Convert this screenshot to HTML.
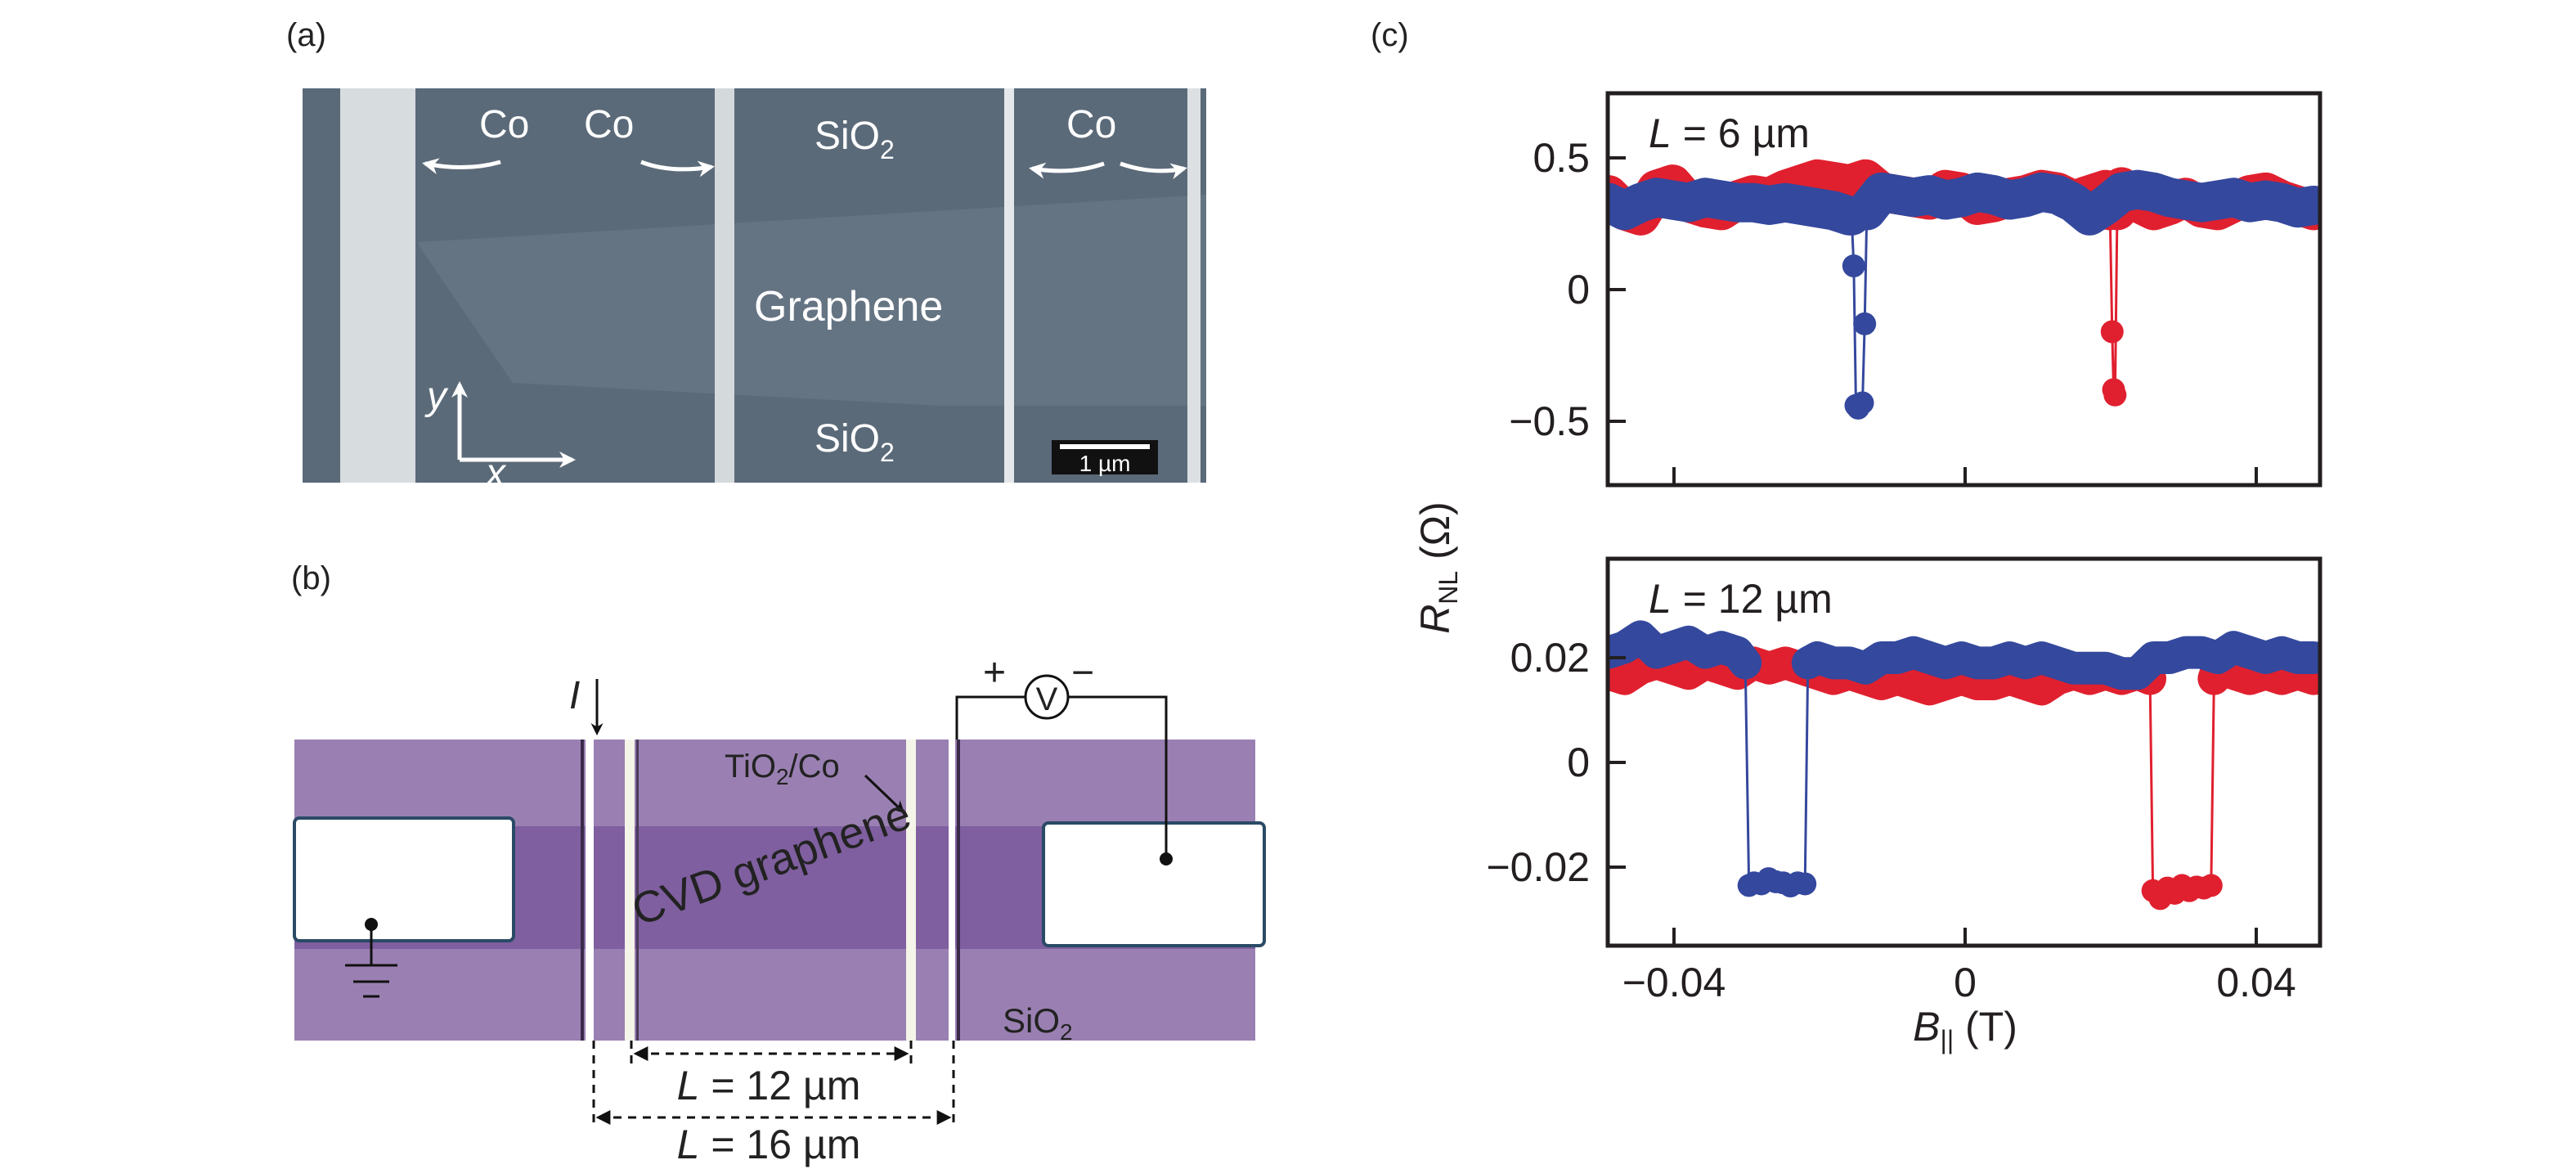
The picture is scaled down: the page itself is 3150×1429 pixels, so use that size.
<!DOCTYPE html>
<html><head><meta charset="utf-8"><style>
html,body{margin:0;padding:0;background:#fff;}
svg{display:block;font-family:"Liberation Sans",sans-serif;}
</style></head><body>
<svg id="fig" width="3150" height="1429" viewBox="0 0 3150 1429" xmlns="http://www.w3.org/2000/svg">
<defs>
<marker id="wa" viewBox="0 0 10 10" refX="8" refY="5" markerWidth="4" markerHeight="4" orient="auto"><path d="M0,0 L10,5 L0,10 L3,5 z" fill="#fff"/></marker>
<marker id="ka" viewBox="0 0 10 10" refX="8" refY="5" markerWidth="5" markerHeight="5" orient="auto"><path d="M0,0 L10,5 L0,10 L3,5 z" fill="#111"/></marker>
<marker id="kb" viewBox="0 0 10 10" refX="8" refY="5" markerWidth="6" markerHeight="6" orient="auto-start-reverse"><path d="M0,0 L10,5 L0,10 z" fill="#111"/></marker>
</defs>

<!-- Panel (a) -->
<text x="350" y="56" font-size="40" fill="#222">(a)</text>
<g>
<rect x="370" y="108" width="1105" height="482" fill="#5b6a79"/>
<polygon points="512,296 1475,238 1475,496 1150,496 627,468 512,300" fill="#657483"/>
<rect x="416" y="108" width="92" height="482" fill="#d7dcdf"/>
<rect x="874" y="108" width="24" height="482" fill="#d4d9dc"/>
<rect x="1228" y="108" width="12" height="482" fill="#e4e8ea"/>
<rect x="1452" y="108" width="16" height="482" fill="#dce0e3"/>
<g fill="#fff" font-size="48">
<text x="586" y="168">Co</text>
<text x="714" y="168">Co</text>
<text x="996" y="182">SiO<tspan font-size="32" dy="12">2</tspan></text>
<text x="1304" y="168">Co</text>
<text x="922" y="392" font-size="52">Graphene</text>
<text x="996" y="552">SiO<tspan font-size="32" dy="12">2</tspan></text>
<text x="522" y="500" font-style="italic">y</text>
<text x="594" y="594" font-style="italic">x</text>
</g>
<g stroke="#fff" stroke-width="5" fill="none">
<path d="M612,198 Q570,210 520,200" marker-end="url(#wa)"/>
<path d="M784,198 Q820,212 870,204" marker-end="url(#wa)"/>
<path d="M1350,200 Q1310,214 1262,206" marker-end="url(#wa)"/>
<path d="M1370,200 Q1410,214 1448,206" marker-end="url(#wa)"/>
<line x1="562" y1="562" x2="562" y2="470" marker-end="url(#wa)"/>
<line x1="562" y1="562" x2="700" y2="562" marker-end="url(#wa)"/>
</g>
<rect x="1286" y="538" width="130" height="42" fill="#111"/>
<rect x="1296" y="543" width="110" height="6" fill="#fff"/>
<text x="1351" y="576" fill="#fff" font-size="28" text-anchor="middle">1 µm</text>
</g>

<!-- Panel (b) -->
<text x="356" y="720" font-size="40" fill="#222">(b)</text>
<g>
<rect x="360" y="904" width="1175" height="368" fill="#9a80b2"/>
<rect x="360" y="1010" width="1175" height="150" fill="#7f5f9f"/>
<rect x="360" y="1000" width="268" height="150" rx="6" fill="#fff" stroke="#2a4a66" stroke-width="4"/>
<rect x="1276" y="1006" width="270" height="150" rx="6" fill="#fff" stroke="#2a4a66" stroke-width="4"/>
<rect x="716" y="904" width="10" height="368" fill="#fff"/>
<rect x="710" y="904" width="4" height="368" fill="#3a2a4a"/>
<rect x="764" y="904" width="12" height="368" fill="#f4f4e8"/>
<rect x="778" y="904" width="3" height="368" fill="#4a3a5a"/>
<rect x="1108" y="904" width="12" height="368" fill="#f4f4e8"/>
<rect x="1160" y="904" width="8" height="368" fill="#fff"/>
<rect x="1170" y="904" width="4" height="368" fill="#3a2a4a"/>
</g>
<g stroke="#111" stroke-width="3" fill="none">
<line x1="730" y1="830" x2="730" y2="896" marker-end="url(#ka)"/>
<polyline points="1170,904 1170,852 1254,852"/>
<polyline points="1304,852 1426,852 1426,1050"/>
<circle cx="1280" cy="852" r="26" fill="#fff"/>
<line x1="454" y1="1130" x2="454" y2="1180"/>
<line x1="422" y1="1180" x2="486" y2="1180"/>
<line x1="432" y1="1200" x2="476" y2="1200"/>
<line x1="444" y1="1218" x2="464" y2="1218"/>
<line x1="1058" y1="948" x2="1104" y2="992" marker-end="url(#ka)"/>
</g>
<circle cx="1426" cy="1050" r="8" fill="#111"/>
<circle cx="454" cy="1130" r="8" fill="#111"/>
<g font-size="48" fill="#222">
<text x="696" y="866" font-style="italic">I</text>
<text x="1280" y="868" text-anchor="middle" font-size="40">V</text>
<text x="1202" y="838">+</text>
<text x="1310" y="838">−</text>
<text x="886" y="950" font-size="40">TiO<tspan font-size="28" dy="9">2</tspan><tspan dy="-9">/Co</tspan></text>
<text x="944" y="1072" font-size="54" text-anchor="middle" transform="rotate(-20 944 1056)">CVD graphene</text>
<text x="1226" y="1262" font-size="42">SiO<tspan font-size="28" dy="9">2</tspan></text>
<text x="940" y="1344" font-size="50" text-anchor="middle"><tspan font-style="italic">L</tspan> = 12 µm</text>
<text x="940" y="1416" font-size="50" text-anchor="middle"><tspan font-style="italic">L</tspan> = 16 µm</text>
</g>
<g stroke="#111" stroke-width="3" fill="none" stroke-dasharray="10,8">
<line x1="726" y1="1272" x2="726" y2="1380"/>
<line x1="772" y1="1272" x2="772" y2="1300"/>
<line x1="1114" y1="1272" x2="1114" y2="1300"/>
<line x1="1166" y1="1272" x2="1166" y2="1380"/>
<line x1="778" y1="1288" x2="1108" y2="1288" marker-start="url(#kb)" marker-end="url(#kb)"/>
<line x1="732" y1="1366" x2="1160" y2="1366" marker-start="url(#kb)" marker-end="url(#kb)"/>
</g>

<!-- Panel (c) -->
<text x="1676" y="56" font-size="40" fill="#222">(c)</text>
<g id="chart"></g>
</svg>
<script>
// x axis (shared)
const xTicks = [-0.04, 0, 0.04];
const xTickLabels = ["−0.04", "0", "0.04"];
// top panel (L = 6 µm)
const topYTicks = [0.5, 0, -0.5];
const topYTickLabels = ["0.5", "0", "−0.5"];
const baseB = [-0.0490,-0.0468,-0.0446,-0.0424,-0.0402,-0.0380,-0.0357,-0.0335,-0.0313,-0.0291,-0.0269,-0.0247,-0.0225,-0.0203,-0.0181,-0.0159,-0.0137,-0.0115,-0.0093,-0.0071,-0.0049,-0.0027,-0.0005,0.0017,0.0039,0.0061,0.0083,0.0105,0.0127,0.0149,0.0171,0.0193,0.0215,0.0237,0.0259,0.0281,0.0303,0.0325,0.0347,0.0369,0.0391,0.0413,0.0435,0.0457,0.0479];
const redTop = [0.36,0.30,0.28,0.38,0.40,0.33,0.31,0.30,0.34,0.36,0.35,0.38,0.40,0.42,0.41,0.40,0.42,0.37,0.36,0.35,0.34,0.38,0.37,0.32,0.33,0.35,0.36,0.38,0.37,0.34,0.36,0.38,0.39,0.33,0.30,0.32,0.35,0.31,0.30,0.33,0.36,0.37,0.34,0.32,0.30];
const blueTop = [0.33,0.30,0.33,0.35,0.34,0.33,0.35,0.34,0.33,0.33,0.32,0.33,0.32,0.31,0.30,0.28,0.35,0.37,0.36,0.35,0.36,0.34,0.35,0.37,0.36,0.34,0.35,0.37,0.36,0.33,0.28,0.32,0.37,0.38,0.37,0.35,0.34,0.33,0.34,0.35,0.33,0.34,0.33,0.31,0.32];
const blueTopDipB = [-0.0156,-0.0153,-0.0150,-0.0147,-0.0141,-0.0138,-0.0135];
const blueTopDipV = [0.28,0.09,-0.44,-0.45,-0.43,-0.13,0.30];
const redTopDipB = [0.0199,0.0202,0.0204,0.0206,0.0209];
const redTopDipV = [0.30,-0.16,-0.38,-0.40,0.30];
// bottom panel (L = 12 µm)
const botYTicks = [0.02, 0, -0.02];
const botYTickLabels = ["0.02", "0", "−0.02"];
const redBot = [0.017,0.016,0.018,0.019,0.018,0.017,0.019,0.018,0.017,0.019,0.018,0.019,0.018,0.017,0.016,0.017,0.016,0.015,0.016,0.015,0.014,0.015,0.016,0.015,0.015,0.016,0.015,0.014,0.016,0.017,0.016,0.017,0.016,0.017,0.017,0.016,0.017,0.016,0.018,0.017,0.016,0.017,0.016,0.017,0.016];
const blueBot = [0.021,0.022,0.024,0.021,0.022,0.023,0.021,0.022,0.021,0.020,0.019,0.021,0.021,0.020,0.019,0.019,0.018,0.020,0.020,0.021,0.020,0.019,0.020,0.019,0.019,0.020,0.019,0.020,0.019,0.018,0.018,0.018,0.017,0.017,0.020,0.020,0.021,0.021,0.020,0.022,0.021,0.020,0.021,0.020,0.020];
const blueBotDipB = [-0.0302,-0.0297,-0.0290,-0.0280,-0.0270,-0.0260,-0.0250,-0.0240,-0.0230,-0.0220,-0.0216];
const blueBotDipV = [0.019,-0.0235,-0.0230,-0.0232,-0.0222,-0.0228,-0.0230,-0.0236,-0.0230,-0.0232,0.019];
const redBotDipB = [0.0254,0.0258,0.0268,0.0278,0.0288,0.0298,0.0308,0.0318,0.0328,0.0338,0.0342];
const redBotDipV = [0.016,-0.0245,-0.0260,-0.0240,-0.0250,-0.0235,-0.0245,-0.0238,-0.0240,-0.0235,0.016];

const NS = "http://www.w3.org/2000/svg";
const root = document.getElementById('chart');
const X0 = 1966, X1 = 2837;
function xs(b){ return 2403 + b * (356/0.04); }
function mk(tag, attrs, parent){ const e = document.createElementNS(NS, tag); for (const k in attrs) e.setAttribute(k, attrs[k]); (parent||root).appendChild(e); return e; }
const RED = "#e0202f", BLUE = "#34489d";

function panel(name, top, bottom, ys, yTicks, yLabels, label, series, showX, bandW){
  const g = mk('g', {});
  
  
  const clipId = name + '-clip';
  const cp = mk('clipPath', {id: clipId}, g);
  mk('rect', {x: X0, y: top, width: X1-X0, height: bottom-top}, cp);
  const plot = mk('g', {'clip-path': 'url(#' + clipId + ')'}, g);
  series.forEach(s => {
    const sg = mk('g', {}, plot);
    
    
    const lo = s.dipB[0], hi = s.dipB[s.dipB.length-1];
    const pts = [];
    baseB.forEach((b,i) => { if (b < lo || b > hi) pts.push([xs(b), ys(s.base[i])]); });
    const left = pts.filter(p => p[0] < xs(lo)), right = pts.filter(p => p[0] > xs(hi));
    [left.concat([[xs(lo), ys(s.dipV[0])]]), [[xs(hi), ys(s.dipV[s.dipV.length-1])]].concat(right)].forEach(seg => {
      const band = mk('polyline', {points: seg.map(p => p.join(',')).join(' '), fill: 'none', stroke: s.color, 'stroke-width': bandW, 'stroke-linejoin': 'round', 'stroke-linecap': 'round'}, sg);
      
      
    });
    const seg2 = s.dipB.map((b,i) => [xs(b), ys(s.dipV[i])]);
    const line = mk('polyline', {points: seg2.map(p => p.join(',')).join(' '), fill: 'none', stroke: s.color, 'stroke-width': 3}, sg);
    
    
    seg2.slice(1, -1).forEach(p => {
      const c = mk('circle', {cx: p[0], cy: p[1], r: 14, fill: s.color}, sg);
      
      
    });
  });
  mk('rect', {x: X0, y: top, width: X1-X0, height: bottom-top, fill: 'none', stroke: '#231f20', 'stroke-width': 5}, g);
  yTicks.forEach((v,i) => {
    mk('line', {x1: X0, x2: X0+22, y1: ys(v), y2: ys(v), stroke: '#231f20', 'stroke-width': 4}, g);
    const t = mk('text', {x: X0-22, y: ys(v)+17, 'font-size': 50, 'text-anchor': 'end', fill: '#231f20'}, g);
    t.textContent = yLabels[i];
    
    
  });
  xTicks.forEach((v,i) => {
    mk('line', {x1: xs(v), x2: xs(v), y1: bottom, y2: bottom-22, stroke: '#231f20', 'stroke-width': 4}, g);
    if (showX) {
      const t = mk('text', {x: xs(v), y: bottom+62, 'font-size': 50, 'text-anchor': 'middle', fill: '#231f20'}, g);
      t.textContent = xTickLabels[i];
      
      
    }
  });
  const lt = mk('text', {x: X0+50, y: top+66, 'font-size': 50, fill: '#231f20'}, g);
  lt.innerHTML = '<tspan font-style="italic">L</tspan> = ' + label;
  
  
}
panel('top-panel', 114, 593, v => 354 - v*322, topYTicks, topYTickLabels, '6 µm', [
  {name: 'red-series-top', color: RED, base: redTop, dipB: redTopDipB, dipV: redTopDipV},
  {name: 'blue-series-top', color: BLUE, base: blueTop, dipB: blueTopDipB, dipV: blueTopDipV}
], false, 48);
panel('bottom-panel', 683, 1156, v => 932 - v*6400, botYTicks, botYTickLabels, '12 µm', [
  {name: 'red-series-bottom', color: RED, base: redBot, dipB: redBotDipB, dipV: redBotDipV},
  {name: 'blue-series-bottom', color: BLUE, base: blueBot, dipB: blueBotDipB, dipV: blueBotDipV}
], true, 40);
const yt = mk('text', {x: 1772, y: 694, 'font-size': 50, 'text-anchor': 'middle', fill: '#231f20', transform: 'rotate(-90 1772 694)'});
yt.innerHTML = '<tspan font-style="italic">R</tspan><tspan font-size="32" dy="10">NL</tspan><tspan dy="-10"> (Ω)</tspan>';


const xt = mk('text', {x: 2403, y: 1272, 'font-size': 50, 'text-anchor': 'middle', fill: '#231f20'});
xt.innerHTML = '<tspan font-style="italic">B</tspan><tspan font-size="32" dy="10">||</tspan><tspan dy="-10"> (T)</tspan>';


</script>
</body></html>
